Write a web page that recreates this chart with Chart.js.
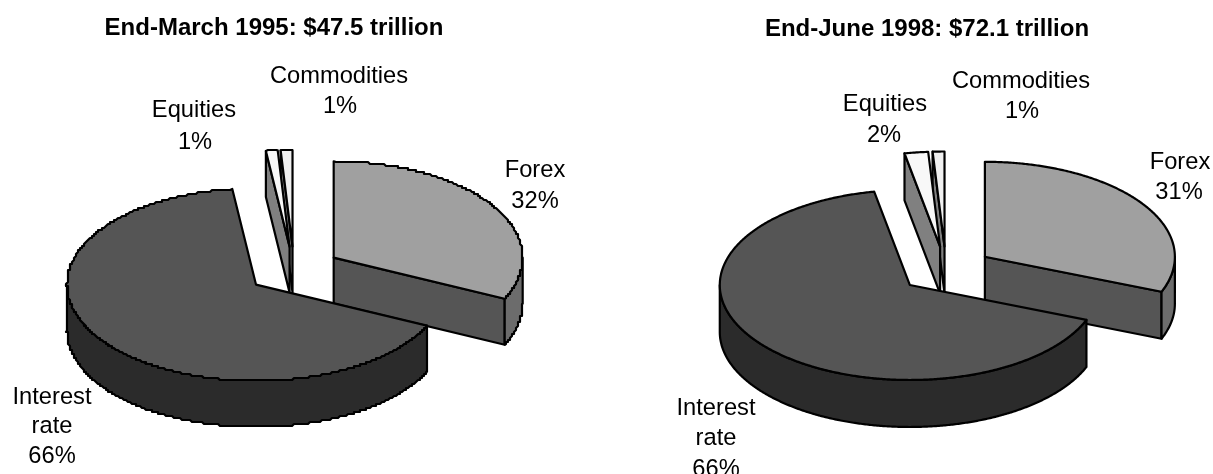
<!DOCTYPE html>
<html>
<head>
<meta charset="utf-8">
<style>
  html, body { margin: 0; padding: 0; background: #fff; overflow: hidden; }
  canvas { position: absolute; top: 0; }
</style>
<script src="https://cdn.jsdelivr.net/npm/chart.js@4"></script>
</head>
<body>
<canvas id="pie-1995" width="606" height="474" style="left:0"></canvas>
<canvas id="pie-1998" width="607" height="474" style="left:606px"></canvas>
<script>
const categories = ["Forex", "Interest rate", "Equities", "Commodities"];
const values1995 = [32, 66, 1, 1];
const values1998 = [31, 66, 2, 1];
const title1995 = "End-March 1995: $47.5 trillion";
const title1998 = "End-June 1998: $72.1 trillion";

const topColors = ["#a0a0a0", "#555555", "#f8f8f8", "#f0f0f0"];
const rimColors = ["#6c6c6c", "#2b2b2b", "#808080", "#808080"];
const cutColors = ["#555555", "#555555", "#808080", "#808080"];

// label line baselines, one entry per line: [text, x, y]
const labelLines = (values, spots) =>
  categories.flatMap((name, i) => {
    const lines = name === "Interest rate" ? ["Interest", "rate"] : [name];
    return [...lines, `${values[i]}%`].map((text, j) => [text, spots[i][j][0], spots[i][j][1]]);
  });

const spots1995 = [
  [[535, 177], [535, 208]],
  [[52, 404], [52, 433], [52, 463]],
  [[194, 117], [195, 149]],
  [[339, 83], [340, 113]],
];
const spots1998 = [
  [[574, 169], [573, 199]],
  [[110, 415], [110, 445], [110, 476]],
  [[279, 111], [278, 142]],
  [[415, 88], [416, 118]],
];

// walks an elliptical arc, optionally snapped to a coarse grid for the stepped outline
const traceRim = (ctx, x, y, rx, ry, from, to, snap) => {
  const count = Math.max(2, Math.ceil(Math.abs(to - from) / 0.008));
  for (let i = 0; i <= count; i++) {
    const a = from + ((to - from) * i) / count;
    let px = x + Math.cos(a) * rx;
    let py = y + Math.sin(a) * ry;
    if (snap && i > 0 && i < count) {
      px = Math.round(px / snap) * snap;
      py = Math.round(py / snap) * snap;
    }
    ctx.lineTo(px, py);
  }
};

const paintShape = (ctx, fill, drawPath) => {
  ctx.beginPath();
  drawPath();
  ctx.closePath();
  ctx.fillStyle = fill;
  ctx.fill();
  ctx.stroke();
};

// draws the chart's own arc elements as tilted discs with a visible thickness
const tiltedPie = {
  id: "tiltedPie",
  beforeDatasetsDraw(chart, args, opts) {
    const { ctx } = chart;
    const arcs = chart.getDatasetMeta(0).data;
    const order = arcs
      .map((arc, i) => ({ arc, i, mid: (arc.startAngle + arc.endAngle) / 2 }))
      .sort((a, b) => Math.sin(a.mid) - Math.sin(b.mid));

    ctx.save();
    ctx.lineJoin = "round";
    order.forEach(({ arc, i, mid }) => {
      const { startAngle: start, endAngle: end, outerRadius: r } = arc;
      const rx = r;
      const ry = r * opts.tilt;
      const x = arc.x + Math.cos(mid) * arc.options.offset;
      const y = arc.y + Math.sin(mid) * arc.options.offset * opts.tilt;
      const depth = opts.depth;
      ctx.lineWidth = arc.options.borderWidth;
      ctx.strokeStyle = arc.options.borderColor;

      // flat cut faces that point towards the viewer
      [[start, Math.cos(start) < -1e-6], [end, Math.cos(end) > 1e-6]].forEach(([a, visible]) => {
        if (!visible) return;
        const ex = x + Math.cos(a) * rx;
        const ey = y + Math.sin(a) * ry;
        paintShape(ctx, cutColors[i], () => {
          ctx.moveTo(x, y);
          ctx.lineTo(ex, ey);
          ctx.lineTo(ex, ey + depth);
          ctx.lineTo(x, y + depth);
        });
      });

      // outer rim, front half only
      const from = Math.max(start, 0);
      const to = Math.min(end, Math.PI);
      if (to > from) {
        paintShape(ctx, rimColors[i], () => {
          ctx.moveTo(x + Math.cos(from) * rx, y + Math.sin(from) * ry);
          traceRim(ctx, x, y, rx, ry, from, to, opts.snap);
          traceRim(ctx, x, y + depth, rx, ry, to, from, opts.snap);
        });
      }

      // top face
      paintShape(ctx, arc.options.backgroundColor, () => {
        ctx.moveTo(x, y);
        traceRim(ctx, x, y, rx, ry, start, end, opts.snap);
      });
    });
    ctx.restore();
    return false;
  },
  afterDraw(chart, args, opts) {
    const { ctx } = chart;
    ctx.save();
    ctx.fillStyle = "#000";
    ctx.textAlign = "center";
    ctx.font = 'bold 24px "Liberation Sans"';
    ctx.fillText(opts.title, opts.titleAt[0], opts.titleAt[1]);
    ctx.font = '23.7px "Liberation Sans"';
    opts.lines.forEach(([text, x, y]) => ctx.fillText(text, x, y));
    ctx.restore();
  },
};

const buildPie = (canvasId, values, config) =>
  new Chart(document.getElementById(canvasId), {
    type: "pie",
    data: {
      labels: categories,
      datasets: [
        {
          data: values,
          backgroundColor: topColors,
          borderColor: "#000",
          borderWidth: 2.2,
          offset: 47,
        },
      ],
    },
    options: {
      responsive: false,
      animation: false,
      radius: config.radius,
      layout: { padding: config.padding },
      plugins: {
        legend: { display: false },
        tooltip: { enabled: false },
        tiltedPie: config.pie,
      },
    },
    plugins: [tiltedPie],
  });

buildPie("pie-1995", values1995, {
  radius: 189,
  padding: { right: 18, top: 67 },
  pie: {
    tilt: 0.51,
    depth: 46,
    snap: 2,
    title: title1995,
    titleAt: [274, 35],
    lines: labelLines(values1995, spots1995),
  },
});

buildPie("pie-1998", values1998, {
  radius: 190,
  padding: { left: 73, top: 66 },
  pie: {
    tilt: 0.5,
    depth: 47,
    snap: 0,
    title: title1998,
    titleAt: [321, 36],
    lines: labelLines(values1998, spots1998),
  },
});
</script>
</body>
</html>
